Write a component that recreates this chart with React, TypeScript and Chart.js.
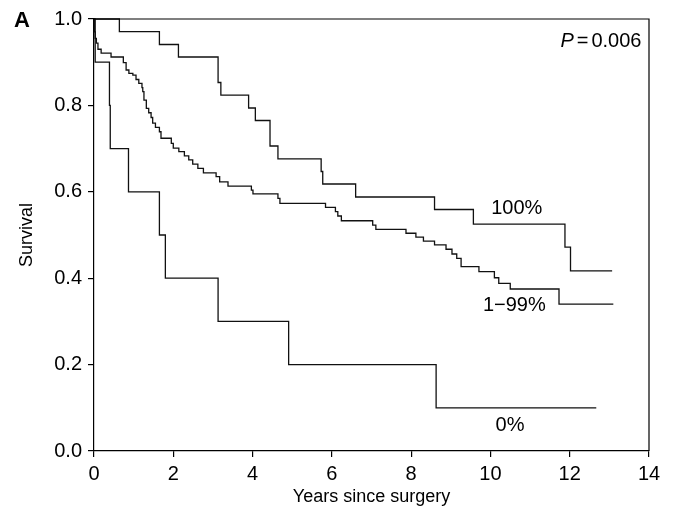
import React, { useEffect, useRef } from "react";
import { Chart, registerables } from "chart.js";

Chart.register(...registerables);

const FONT = "'Liberation Sans', Arial, Helvetica, sans-serif";

// Kaplan–Meier curves: event times (years) and survival after each step
const timesNone = [0, 0.03, 0.39, 0.41, 0.87, 1.65, 1.8, 3.13, 4.91, 8.63, 12.67];
const survNone = [1, 0.9, 0.8, 0.7, 0.6, 0.5, 0.4, 0.3, 0.2, 0.1, 0.1];

const timesFull = [0, 0.64, 1.65, 2.13, 3.13, 3.2, 3.9, 4.07, 4.44, 4.64, 5.73, 5.77, 6.6, 8.59, 9.57, 11.88, 12.02, 13.07];
const survFull = [1, 0.971, 0.941, 0.912, 0.853, 0.824, 0.794, 0.765, 0.706, 0.676, 0.647, 0.618, 0.588, 0.559, 0.525, 0.472, 0.417, 0.417];

const timesPartial = [
  0, 0.01, 0.03, 0.06, 0.1, 0.18, 0.43, 0.74, 0.81, 0.88, 0.98, 1.06, 1.13, 1.21, 1.23, 1.26, 1.32,
  1.38, 1.44, 1.48, 1.55, 1.65, 1.69, 1.95, 2.0, 2.14, 2.28, 2.39, 2.49, 2.62, 2.76, 3.08, 3.17, 3.38,
  3.97, 4.01, 4.64, 4.69, 5.84, 6.09, 6.15, 6.24, 7.03, 7.11, 7.87, 8.12, 8.31, 8.59, 8.88, 9.03, 9.15,
  9.26, 9.71, 10.1, 10.21, 10.5, 11.73, 13.1,
];
const survPartial = [
  1, 0.97, 0.955, 0.944, 0.93, 0.921, 0.912, 0.899, 0.882, 0.874, 0.87, 0.86, 0.851, 0.841, 0.832, 0.812, 0.793,
  0.783, 0.772, 0.759, 0.749, 0.739, 0.724, 0.712, 0.701, 0.693, 0.683, 0.674, 0.664, 0.654, 0.644, 0.635, 0.623, 0.613,
  0.604, 0.595, 0.585, 0.573, 0.564, 0.554, 0.544, 0.533, 0.523, 0.513, 0.504, 0.495, 0.486, 0.477, 0.467, 0.456, 0.446,
  0.427, 0.415, 0.401, 0.388, 0.375, 0.34, 0.34,
];

const curveLabels = ["0%", "100%", "1\u221299%"];
// label anchor positions in data units [x (left edge), y (middle)]
const labelX = [10.13, 10.02, 9.81];
const labelY = [0.058, 0.561, 0.336];

const pValueParts = ["P", "=", "0.006"];
const pValueX = 13.81;
const pValueY = 0.948;

const panelLetter = "A";

export default function App() {
  const ref = useRef<HTMLCanvasElement>(null);

  useEffect(() => {
    const canvas = ref.current;
    if (!canvas) return;
    const toPts = (t: number[], s: number[]) => t.map((x, i) => ({ x, y: s[i] }));
    const ds = (label: string, t: number[], s: number[]) => ({
      label,
      data: toPts(t, s),
      stepped: "before" as const,
      showLine: true,
      borderColor: "#111",
      backgroundColor: "#111",
      borderWidth: 1.3,
      pointRadius: 0,
      pointHoverRadius: 0,
      fill: false,
      clip: false as any,
    });

    const annot = {
      id: "annot",
      afterDraw(chart: any) {
        const c = chart.ctx;
        const xs = chart.scales.x;
        const ys = chart.scales.y;
        const area = chart.chartArea;
        c.save();
        // frame
        c.strokeStyle = "#000";
        c.lineWidth = 1.2;
        c.beginPath();
        c.moveTo(area.left, area.top);
        c.lineTo(area.right, area.top);
        c.lineTo(area.right, area.bottom);
        c.stroke();
        c.fillStyle = "#000";
        c.textBaseline = "middle";
        // curve labels
        c.font = `20px ${FONT}`;
        c.textAlign = "left";
        curveLabels.forEach((t, i) => {
          c.fillText(t, xs.getPixelForValue(labelX[i]), ys.getPixelForValue(labelY[i]));
        });
        // p-value, right-aligned, with small gaps around "="
        const rx = xs.getPixelForValue(pValueX);
        const py = ys.getPixelForValue(pValueY);
        const gap = 3;
        c.font = `20px ${FONT}`;
        const wNum = c.measureText(pValueParts[2]).width;
        const wEq = c.measureText(pValueParts[1]).width;
        c.font = `italic 20px ${FONT}`;
        const wP = c.measureText(pValueParts[0]).width;
        let x = rx - wNum - gap - wEq - gap - wP;
        c.fillText(pValueParts[0], x, py);
        x += wP + gap;
        c.font = `20px ${FONT}`;
        c.fillText(pValueParts[1], x, py);
        x += wEq + gap;
        c.fillText(pValueParts[2], x, py);
        // panel letter
        c.font = `bold 22px ${FONT}`;
        c.fillText(panelLetter, 14, 21);
        c.restore();
      },
    };

    const chart = new Chart(canvas, {
      type: "scatter",
      data: {
        datasets: [
          ds(curveLabels[0], timesNone, survNone),
          ds(curveLabels[1], timesFull, survFull),
          ds(curveLabels[2], timesPartial, survPartial),
        ] as any,
      },
      options: {
        responsive: false,
        animation: false,
        events: [],
        layout: { padding: { top: 19, right: 28, left: 0, bottom: 0 } },
        plugins: { legend: { display: false }, tooltip: { enabled: false } },
        scales: {
          x: {
            type: "linear",
            min: 0,
            max: 14,
            ticks: {
              stepSize: 2,
              color: "#000",
              font: { family: FONT, size: 20 },
              padding: 5,
              maxRotation: 0,
              autoSkip: false,
            },
            grid: { drawOnChartArea: false, drawTicks: true, tickLength: 6, color: "#000", lineWidth: 1.2 },
            border: { display: true, color: "#000", width: 1.2 },
            title: {
              display: true,
              text: "Years since surgery",
              color: "#000",
              font: { family: FONT, size: 18 },
              padding: { top: 0, bottom: 8 },
            },
            afterFit: (s: any) => {
              s.height = 65;
            },
          },
          y: {
            type: "linear",
            min: 0,
            max: 1,
            ticks: {
              stepSize: 0.2,
              color: "#000",
              font: { family: FONT, size: 20 },
              padding: 6,
              callback: (v: any) => Number(v).toFixed(1),
            },
            grid: { drawOnChartArea: false, drawTicks: true, tickLength: 6, color: "#000", lineWidth: 1.2 },
            border: { display: true, color: "#000", width: 1.2 },
            title: {
              display: true,
              text: "Survival",
              color: "#000",
              font: { family: FONT, size: 18 },
              padding: { top: 16, bottom: 0 },
            },
            afterFit: (s: any) => {
              s.width = 94;
            },
          },
        },
      },
      plugins: [annot],
    });
    return () => chart.destroy();
  }, []);

  return (
    <div style={{ position: "absolute", left: 0, top: 0, width: 677, height: 516, background: "#fff" }}>
      <canvas ref={ref} width={677} height={516} style={{ display: "block", width: 677, height: 516 }} />
    </div>
  );
}
